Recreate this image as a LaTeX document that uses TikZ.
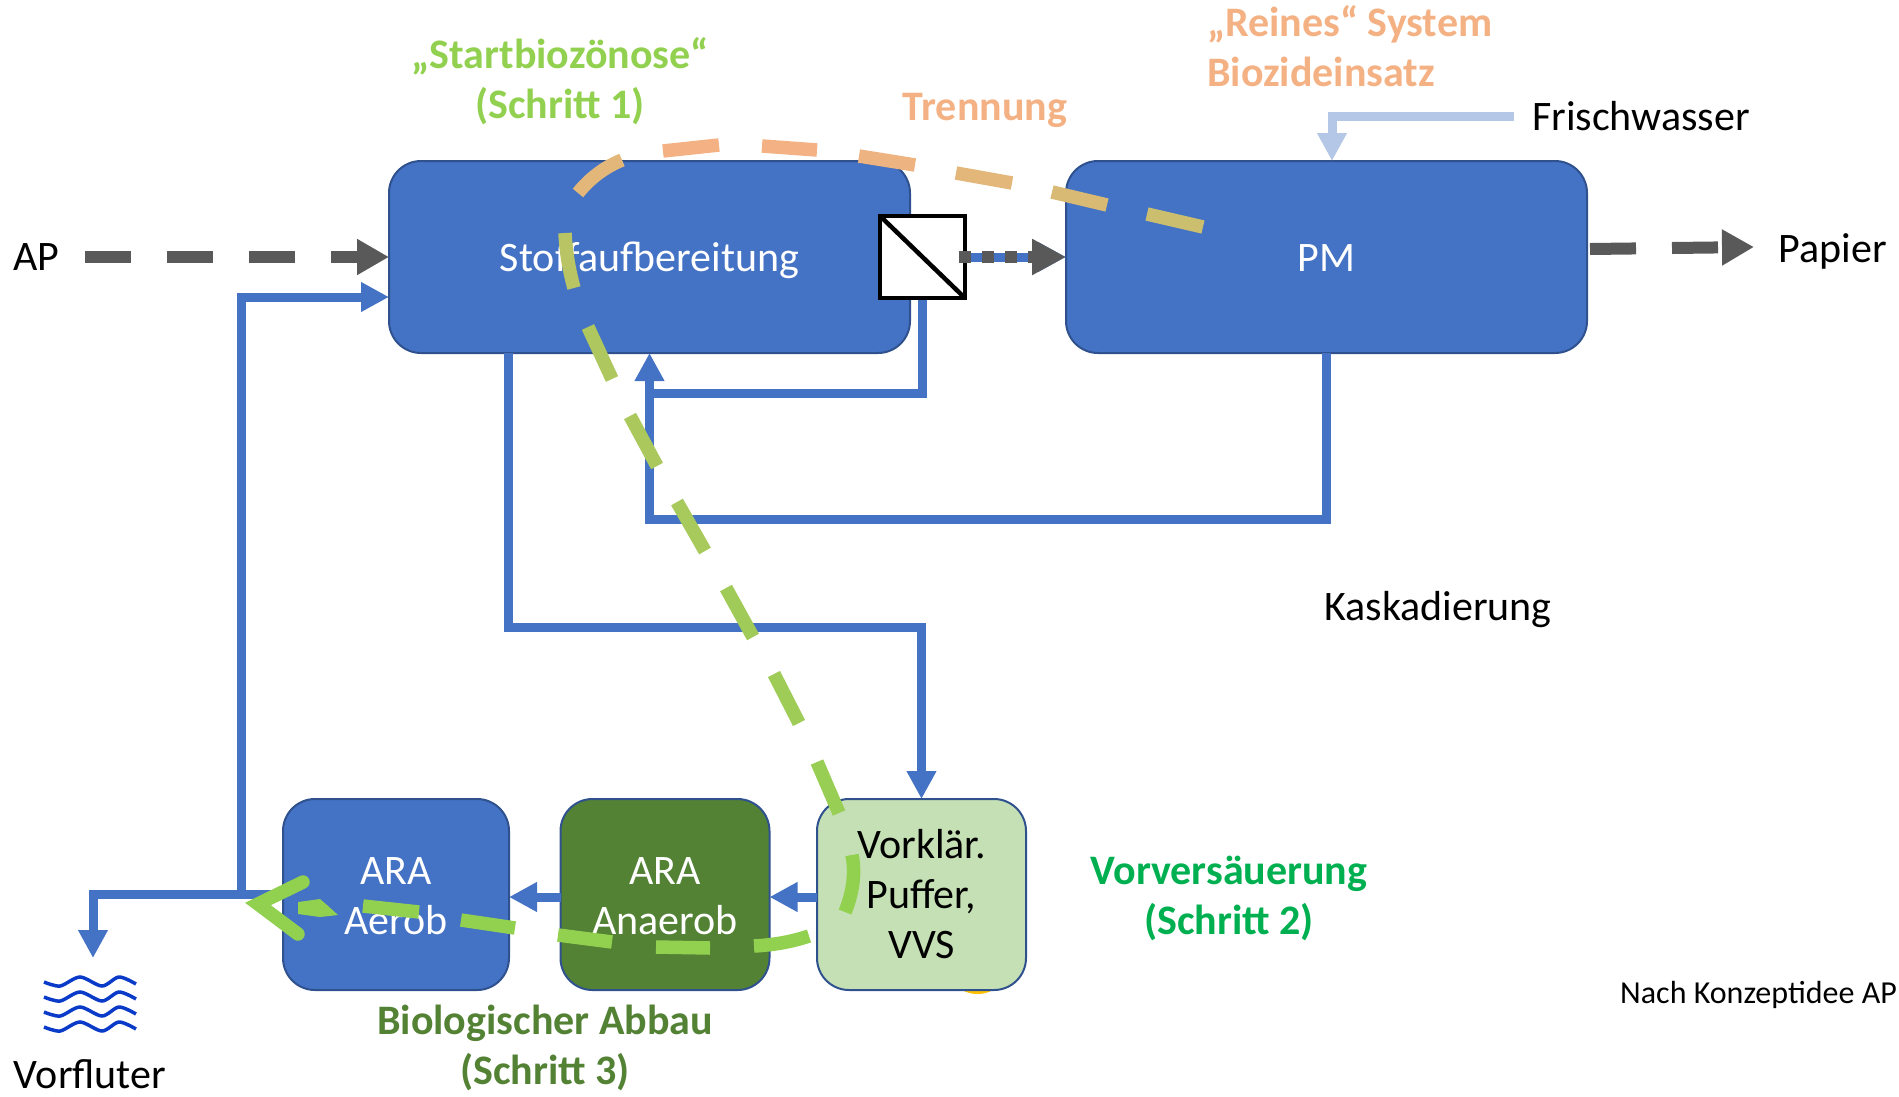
\documentclass[tikz,border=0pt]{standalone}
\usepackage{fontspec}
\setmainfont{Carlito}
\usetikzlibrary{arrows.meta}
\definecolor{boxblue}{HTML}{4472C4}
\definecolor{boxedge}{HTML}{2F528F}
\definecolor{boxgreen}{HTML}{548235}
\definecolor{boxpale}{HTML}{C5E0B4}
\definecolor{flowgray}{HTML}{595959}
\definecolor{freshblue}{HTML}{B4C7E7}
\definecolor{waveblue}{HTML}{0A3AC8}
\definecolor{trailorange}{HTML}{F4B183}
\definecolor{trailgreen}{HTML}{92D050}
\definecolor{stepgreen}{HTML}{00B050}
\definecolor{blobyellow}{HTML}{FFC000}
\tikzset{
  every node/.style={font=\fontsize{42}{50}\selectfont, inner sep=0pt},
  plant/.style={draw=boxedge, line width=2pt, outer sep=0pt, fill=boxblue, rounded corners=32pt, text=white, align=center},
  flow/.style={draw=boxblue, line width=9pt, -{Triangle[length=28pt,width=28pt]}},
  dashflow/.style={draw=flowgray, line width=12pt, dash pattern=on 46pt off 36pt, -{Triangle[length=32pt,width=34pt]}},
  trail/.style={line width=13.5pt},
  wave/.style={draw=waveblue, line width=3.5pt},
  steplabel/.style={font=\fontsize{42}{50}\selectfont\bfseries, align=center}
}

\begin{document}
\begin{tikzpicture}[x=1pt, y=-1pt]
    \useasboundingbox (0,0) rectangle (1899,1096);
    % Small patch under the pre-treatment box
    \fill [blobyellow] (977.5,962) circle [radius=32];
    % Process units
    \node [plant, minimum width=521pt, minimum height=192pt, text depth=8pt, text height=36pt] (stoff) at (649.5,257) {Stoffaufbereitung};
    \node [plant, minimum width=521pt, minimum height=192pt, text depth=8pt, text height=36pt] (pm) at (1326.5,257) {PM};
    \node [plant, minimum width=226pt, minimum height=191pt] (aerob) at (396,894.5) {\rule{0pt}{31pt}ARA\\Aerob};
    \node [plant, fill=boxgreen, minimum width=209pt, minimum height=191pt] (anaerob) at (665,894.5) {\rule{0pt}{31pt}ARA\\Anaerob};
    \node [plant, fill=boxpale, text=black, minimum width=209pt, minimum height=191pt] (vorklaer) at (921.5,894.5) {Vorklär.\\Puffer,\\VVS};
    % Membrane
    \node [draw=black, line width=4.5pt, fill=white, minimum width=85pt, minimum height=82pt] (membran) at (922.5,257) {};
    \draw [line width=4.5pt, shorten <=3pt, shorten >=3pt] (membran.north west) -- (membran.south east);
    % Outer labels
    \node (ap) at (36,257) {AP};
    \node (papier) at (1833,251) {Papier};
    \node [anchor=west] (frisch) at (1532,116) {Frischwasser};
    \node (kaskade) at (1438,610) {Kaskadierung};
    \node (vorfluter) at (90,1074) {Vorfluter};
    \node [anchor=west, font=\fontsize{32}{35}\selectfont] (konzept) at (1620,995) {Nach Konzeptidee AP};
    % Step labels
    \node [steplabel, text=trailgreen] (start) at (560,81.5) {„Startbiozönose“\\(Schritt 1)};
    \node [steplabel, text=trailorange] (trennung) at (985,110) {Trennung};
    \node [steplabel, text=trailorange, anchor=west, align=left] (reines) at (1207,46) {„Reines“ System\\Biozideinsatz};
    \node [steplabel, text=stepgreen] (versauer) at (1229,898.5) {Vorversäuerung\\(Schritt 2)};
    \node [steplabel, text=boxgreen] (abbau) at (545,1048) {Biologischer Abbau\\(Schritt 3)};
    % Helper points of the connectors
    \coordinate (apstart) at (85,257);
    \coordinate (papierstart) at (1590,249);
    \coordinate (papierend) at (1754,247);
    \coordinate (frischstart) at (1514,116);
    \coordinate (frischend) at (1332,161);
    \coordinate (ruecklauf) at (649.5,393);
    \coordinate (kaskadeknick) at (649.5,519);
    \coordinate (stoffaus) at (508,353);
    \coordinate (abwasser) at (921.5,627);
    \coordinate (abzweig) at (241,894);
    \coordinate (vorflutpfeil) at (93,958);
    % Paper and water lines
    \draw [dashflow] (apstart) -- (stoff.west);
    \draw [dashflow] (papierstart) -- (papierend);
    \draw [flow, draw=freshblue] (frischstart) -| (frischend);
    \draw [flow] (membran.east) -- (pm.west);
    \draw [draw=flowgray, line width=12pt, dash pattern=on 12pt off 11pt, -{Triangle[length=34pt,width=34pt]}] ([xshift=-8pt]membran.east) -- (pm.west);
    % Recycling
    \draw [flow] (membran.south) |- (ruecklauf) -- (stoff.south);
    \draw [draw=boxblue, line width=9pt] (pm.south) |- (kaskadeknick) -- (ruecklauf);
    % Waste water path
    \draw [flow] (stoffaus) |- (abwasser) -- (vorklaer.north);
    \draw [flow] ([yshift=-2.5pt]vorklaer.west) -- ([yshift=-2.5pt]anaerob.east);
    \draw [flow] ([yshift=-2.5pt]anaerob.west) -- ([yshift=-2.5pt]aerob.east);
    \draw [flow] (aerob.west) -| (vorflutpfeil);
    \draw [flow] (abzweig) |- ([yshift=-40pt]stoff.west);
    % Receiving water
    \draw [wave] plot [smooth] coordinates {(44,982) (60,986) (80,977) (102,986) (119,977) (136,984)};
    \draw [wave] plot [smooth] coordinates {(44,997) (60,1001) (80,992) (102,1001) (119,992) (136,999)};
    \draw [wave] plot [smooth] coordinates {(44,1012) (60,1016) (80,1007) (102,1016) (119,1007) (136,1014)};
    \draw [wave] plot [smooth] coordinates {(44,1027) (60,1031) (80,1022) (102,1031) (119,1022) (136,1029)};
    % Dashed trail, orange part
    \draw [trail, trailgreen!17!trailorange] (578,193) .. controls (590,178) and (605,167) .. (622,160);
    \draw [trail, trailorange] (663,151) -- (719,145);
    \draw [trail, trailorange] (762,146) -- (817,150);
    \draw [trail, trailgreen!7!trailorange] (859,156) -- (915,165);
    \draw [trail, trailgreen!17!trailorange] (956,173) -- (1012,183);
    \draw [trail, trailgreen!28!trailorange] (1052,192) -- (1107,205);
    \draw [trail, trailgreen!42!trailorange] (1147,214) -- (1203,227);
    % Dashed trail, way down
    \draw [trail, trailgreen!60!trailorange] (565,233) .. controls (566,252) and (569,270) .. (574,288);
    \draw [trail, trailgreen!70!trailorange] (588,327) -- (612,379);
    \draw [trail, trailgreen!75!trailorange] (630,416) -- (657,466);
    \draw [trail, trailgreen!78!trailorange] (677,502) -- (705,551);
    \draw [trail, trailgreen!85!trailorange] (726,588) -- (753,637);
    \draw [trail, trailgreen!88!trailorange] (774,674) -- (799,723);
    \draw [trail, trailgreen!93!trailorange] (817,762) -- (839,813);
    \draw [trail, trailgreen] (852,855) .. controls (856,875) and (852,895) .. (845,912);
    % Dashed trail, through the biology
    \draw [trail, trailgreen] (809,936) .. controls (791,942) and (773,945) .. (754,946);
    \draw [trail, trailgreen] (710,948) -- (656,947);
    \draw [trail, trailgreen] (612,942) -- (558,935);
    \draw [trail, trailgreen] (515,928) -- (461,920);
    \draw [trail, trailgreen] (419,912) -- (363,906);
    \fill [trailgreen] (298,902) -- (320,899) -- (327,905) -- (338,915) -- (320,917) -- (298,914) -- cycle;
    \draw [trail, trailgreen, line cap=round, miter limit=10] (303,882) -- (258,904) -- (298,934);
\end{tikzpicture}
\end{document}
